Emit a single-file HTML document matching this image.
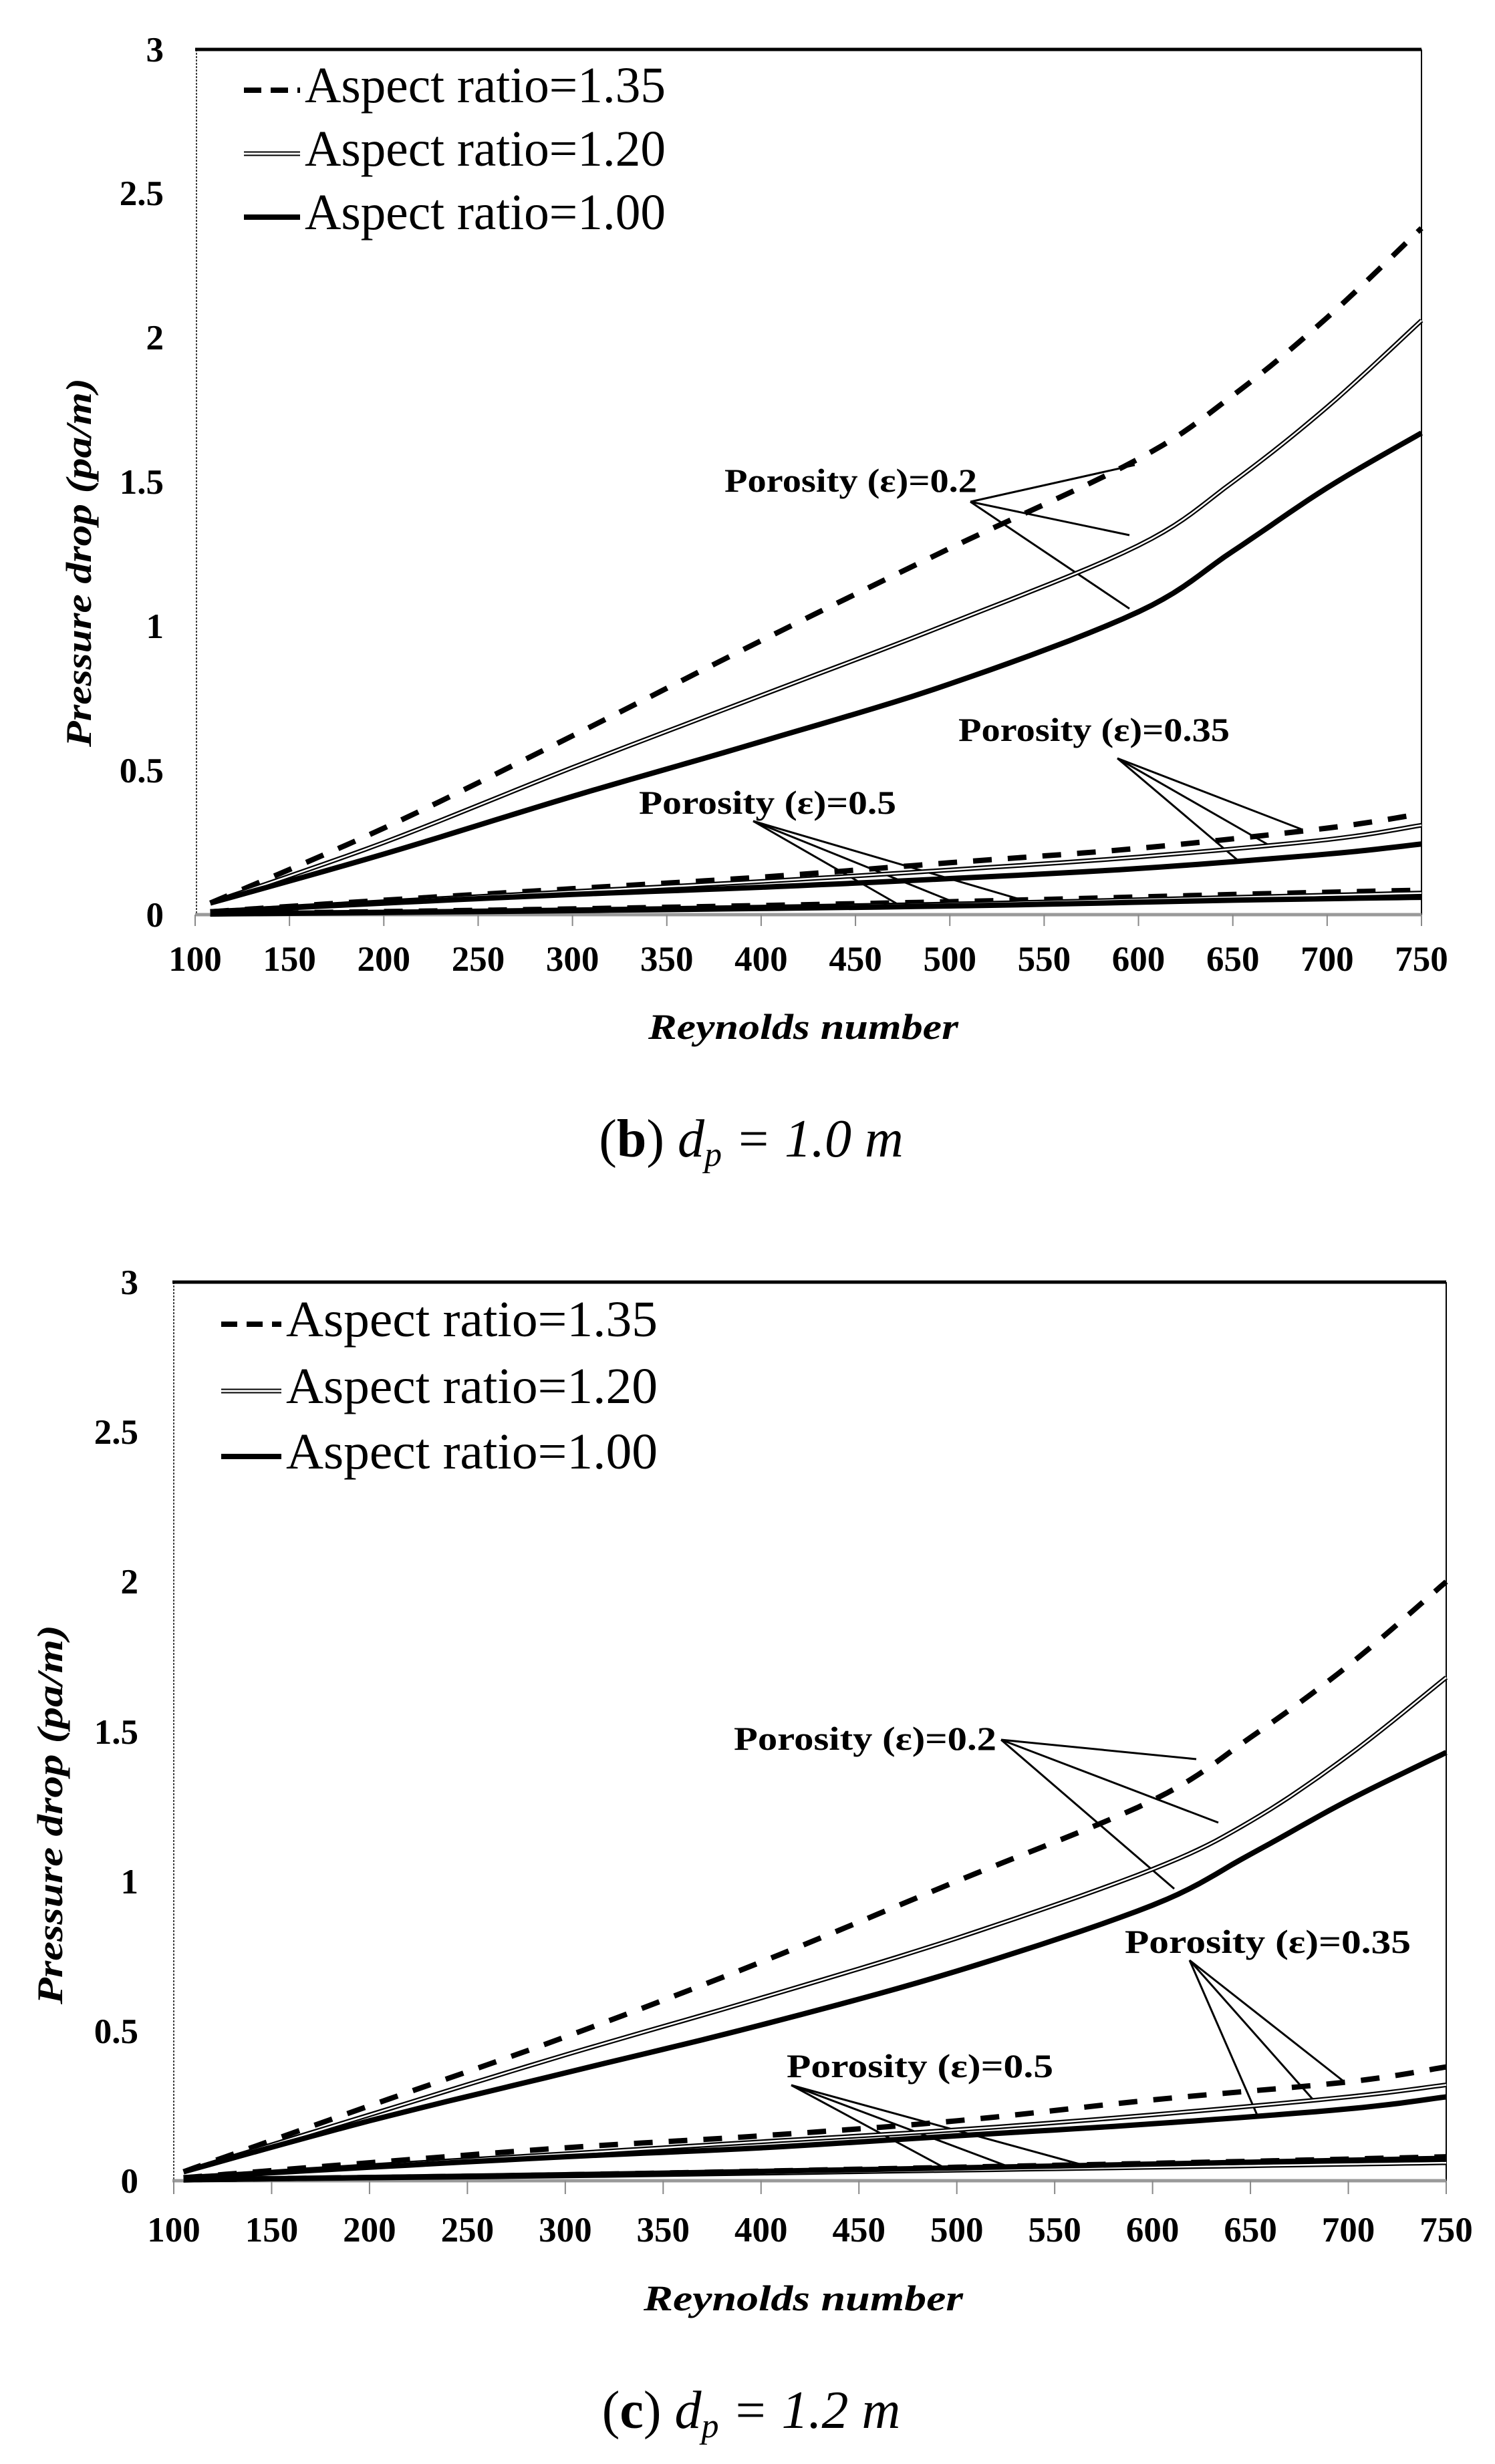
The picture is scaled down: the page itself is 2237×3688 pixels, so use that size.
<!DOCTYPE html>
<html><head><meta charset="utf-8">
<style>
html,body{margin:0;padding:0;background:#fff;}
svg{display:block;}
text{font-family:"Liberation Serif",serif;fill:#000;}
.tk{font-weight:bold;font-size:53px;}
.lg{font-size:76px;}
.pl{font-weight:bold;font-size:50px;}
.ax{font-weight:bold;font-style:italic;font-size:54px;}
.cap{font-size:80px;}
</style></head>
<body>
<svg id="s" width="2237" height="3688" viewBox="0 0 2237 3688" xmlns="http://www.w3.org/2000/svg">
<g id="c1">
<line x1="292" y1="74" x2="2127" y2="74" stroke="#000" stroke-width="5"/>
<line x1="2127" y1="74" x2="2127" y2="1369" stroke="#000" stroke-width="2"/>
<line x1="294" y1="74" x2="294" y2="1369" stroke="#000" stroke-width="1.5" stroke-dasharray="3 2"/>
<line x1="292" y1="1369" x2="2127" y2="1369" stroke="#999" stroke-width="5"/>
<text class="tk" x="245" y="92" text-anchor="end">3</text>
<text class="tk" x="245" y="307" text-anchor="end">2.5</text>
<text class="tk" x="245" y="523" text-anchor="end">2</text>
<text class="tk" x="245" y="739" text-anchor="end">1.5</text>
<text class="tk" x="245" y="955" text-anchor="end">1</text>
<text class="tk" x="245" y="1171" text-anchor="end">0.5</text>
<text class="tk" x="245" y="1387" text-anchor="end">0</text>
<text class="ax" transform="translate(136,842) rotate(-90)" text-anchor="middle" textLength="552" lengthAdjust="spacingAndGlyphs">Pressure drop (pa/m)</text>
<text class="ax" x="1202" y="1555" text-anchor="middle" textLength="464" lengthAdjust="spacingAndGlyphs">Reynolds number</text>
<text class="cap" x="1124" y="1731" text-anchor="middle">(<tspan font-weight="bold">b</tspan>) <tspan font-style="italic">d</tspan><tspan font-style="italic" font-size="52" dy="14">p</tspan><tspan font-style="italic" dy="-14"> = 1.0 m</tspan></text>
<line x1="365" y1="135" x2="449" y2="135" stroke="#000" stroke-width="8" stroke-dasharray="26 14"/>
<line x1="365" y1="230" x2="449" y2="230" stroke="#000" stroke-width="7"/>
<line x1="365" y1="230" x2="449" y2="230" stroke="#fff" stroke-width="3"/>
<line x1="365" y1="325" x2="449" y2="325" stroke="#000" stroke-width="8"/>
<text class="lg" x="456" y="153" textLength="540" lengthAdjust="spacingAndGlyphs">Aspect ratio=1.35</text>
<text class="lg" x="456" y="248" textLength="540" lengthAdjust="spacingAndGlyphs">Aspect ratio=1.20</text>
<text class="lg" x="456" y="343" textLength="540" lengthAdjust="spacingAndGlyphs">Aspect ratio=1.00</text>
<text class="pl" x="1084" y="736" textLength="378" lengthAdjust="spacingAndGlyphs">Porosity (ε)=0.2</text>
<text class="pl" x="1434" y="1109" textLength="406" lengthAdjust="spacingAndGlyphs">Porosity (ε)=0.35</text>
<text class="pl" x="956" y="1218" textLength="385" lengthAdjust="spacingAndGlyphs">Porosity (ε)=0.5</text>
<g stroke="#000" stroke-width="3">
<line x1="1452" y1="751" x2="1698" y2="696"/><line x1="1452" y1="751" x2="1690" y2="801"/><line x1="1452" y1="751" x2="1690" y2="911"/>
<line x1="1672" y1="1135" x2="1947" y2="1241"/><line x1="1672" y1="1135" x2="1897" y2="1264"/><line x1="1672" y1="1135" x2="1855" y2="1290"/>
<line x1="1127" y1="1229" x2="1341" y2="1352"/><line x1="1127" y1="1229" x2="1434" y2="1353"/><line x1="1127" y1="1229" x2="1533" y2="1348"/>
</g>
</g>
<g id="c2">
<line x1="258" y1="1919" x2="2164" y2="1919" stroke="#000" stroke-width="5"/>
<line x1="2164" y1="1919" x2="2164" y2="3264" stroke="#000" stroke-width="2"/>
<line x1="260" y1="1919" x2="260" y2="3264" stroke="#000" stroke-width="1.5" stroke-dasharray="3 2"/>
<line x1="258" y1="3264" x2="2164" y2="3264" stroke="#999" stroke-width="5"/>
<text class="tk" x="207" y="1937" text-anchor="end">3</text>
<text class="tk" x="207" y="2161" text-anchor="end">2.5</text>
<text class="tk" x="207" y="2385" text-anchor="end">2</text>
<text class="tk" x="207" y="2610" text-anchor="end">1.5</text>
<text class="tk" x="207" y="2834" text-anchor="end">1</text>
<text class="tk" x="207" y="3058" text-anchor="end">0.5</text>
<text class="tk" x="207" y="3282" text-anchor="end">0</text>
<text class="ax" transform="translate(93,2716) rotate(-90)" text-anchor="middle" textLength="568" lengthAdjust="spacingAndGlyphs">Pressure drop (pa/m)</text>
<text class="ax" x="1202" y="3458" text-anchor="middle" textLength="478" lengthAdjust="spacingAndGlyphs">Reynolds number</text>
<text class="cap" x="1124" y="3634" text-anchor="middle">(<tspan font-weight="bold">c</tspan>) <tspan font-style="italic">d</tspan><tspan font-style="italic" font-size="52" dy="14">p</tspan><tspan font-style="italic" dy="-14"> = 1.2 m</tspan></text>
<line x1="331" y1="1982" x2="421" y2="1982" stroke="#000" stroke-width="8" stroke-dasharray="24 14"/>
<line x1="331" y1="2082" x2="421" y2="2082" stroke="#000" stroke-width="7"/>
<line x1="331" y1="2082" x2="421" y2="2082" stroke="#fff" stroke-width="3"/>
<line x1="331" y1="2180" x2="421" y2="2180" stroke="#000" stroke-width="8"/>
<text class="lg" x="428" y="2000" textLength="556" lengthAdjust="spacingAndGlyphs">Aspect ratio=1.35</text>
<text class="lg" x="428" y="2100" textLength="556" lengthAdjust="spacingAndGlyphs">Aspect ratio=1.20</text>
<text class="lg" x="428" y="2198" textLength="556" lengthAdjust="spacingAndGlyphs">Aspect ratio=1.00</text>
<text class="pl" x="1098" y="2619" textLength="393" lengthAdjust="spacingAndGlyphs">Porosity (ε)=0.2</text>
<text class="pl" x="1683" y="2923" textLength="428" lengthAdjust="spacingAndGlyphs">Porosity (ε)=0.35</text>
<text class="pl" x="1177" y="3109" textLength="399" lengthAdjust="spacingAndGlyphs">Porosity (ε)=0.5</text>
<g stroke="#000" stroke-width="3">
<line x1="1498" y1="2604" x2="1790" y2="2633"/><line x1="1498" y1="2604" x2="1823" y2="2728"/><line x1="1498" y1="2604" x2="1757" y2="2827"/>
<line x1="1780" y1="2934" x2="2009" y2="3114"/><line x1="1780" y1="2934" x2="1966" y2="3144"/><line x1="1780" y1="2934" x2="1883" y2="3170"/>
<line x1="1184" y1="3121" x2="1412" y2="3244"/><line x1="1184" y1="3121" x2="1512" y2="3244"/><line x1="1184" y1="3121" x2="1626" y2="3242"/>
</g>
</g>
<g id="dyn"></g>
</svg>
<script>
(function(){
var NS="http://www.w3.org/2000/svg",g=document.getElementById("dyn");
function el(n,a){var e=document.createElementNS(NS,n);for(var k in a)e.setAttribute(k,a[k]);g.appendChild(e);return e;}
function chart(x0,x1,y0,unit,tickBot,labY,curves){
  var sx=(x1-x0)/650;
  for(var r=100;r<=750;r+=50){var x=x0+(r-100)*sx;
    el("line",{x1:x,y1:y0,x2:x,y2:tickBot,stroke:"#888","stroke-width":2});
    var t=el("text",{x:x,y:labY,"text-anchor":"middle","class":"tk"});t.textContent=r;}
  curves.forEach(function(c){
    var P=c.p.map(function(q){return [x0+(q[0]-100)*sx,y0-q[1]*unit];});
    var pts=[];
    for(var i=0;i<P.length-1;i++){
      var a=P[Math.max(i-1,0)],b=P[i],d=P[i+1],e=P[Math.min(i+2,P.length-1)];
      for(var s=0;s<10;s++){var t=s/10,t2=t*t,t3=t2*t;
        var f=function(k){return 0.5*((2*b[k])+(-a[k]+d[k])*t+(2*a[k]-5*b[k]+4*d[k]-e[k])*t2+(-a[k]+3*b[k]-3*d[k]+e[k])*t3);};
        pts.push(f(0).toFixed(1)+","+f(1).toFixed(1));}
    }
    var L=P[P.length-1];pts.push(L[0]+","+L[1]);
    var s=pts.join(" ");
    if(c.t=="d") el("polyline",{points:s,fill:"none",stroke:"#000","stroke-width":8,"stroke-dasharray":"28 24"});
    else if(c.t=="w"){el("polyline",{points:s,fill:"none",stroke:"#000","stroke-width":7});
      el("polyline",{points:s,fill:"none",stroke:"#fff","stroke-width":2.5});}
    else el("polyline",{points:s,fill:"none",stroke:"#000","stroke-width":8});
  });
}
chart(292,2127,1369,431.7,1386,1453,[
 {t:"d",p:[[108,0.04],[200,0.3],[300,0.62],[400,0.95],[500,1.27],[600,1.58],[650,1.8],[700,2.07],[750,2.38]]},
 {t:"w",p:[[108,0.04],[200,0.25],[300,0.51],[400,0.76],[500,1.01],[600,1.28],[650,1.5],[700,1.76],[750,2.06]]},
 {t:"s",p:[[108,0.04],[200,0.21],[300,0.41],[400,0.6],[500,0.8],[600,1.05],[650,1.26],[700,1.48],[750,1.67]]},
 {t:"d",p:[[108,0.01],[200,0.05],[300,0.09],[400,0.13],[500,0.18],[600,0.23],[700,0.3],[750,0.35]]},
 {t:"w",p:[[108,0.01],[200,0.045],[300,0.08],[400,0.115],[500,0.155],[600,0.2],[700,0.26],[750,0.31]]},
 {t:"s",p:[[108,0.01],[200,0.04],[300,0.07],[400,0.095],[500,0.125],[600,0.16],[700,0.21],[750,0.245]]},
 {t:"d",p:[[108,0.003],[300,0.02],[500,0.045],[650,0.07],[750,0.085]]},
 {t:"w",p:[[108,0.003],[300,0.017],[500,0.037],[650,0.06],[750,0.075]]},
 {t:"s",p:[[108,0.002],[300,0.014],[500,0.03],[650,0.05],[750,0.06]]}
]);
chart(260,2164,3264,448.3,3284,3355,[
 {t:"d",p:[[105,0.03],[200,0.25],[300,0.48],[400,0.73],[500,1.0],[600,1.27],[650,1.48],[700,1.72],[750,2.0]]},
 {t:"w",p:[[105,0.03],[200,0.22],[300,0.42],[400,0.61],[500,0.81],[600,1.04],[650,1.2],[700,1.42],[750,1.68]]},
 {t:"s",p:[[105,0.03],[200,0.2],[300,0.36],[400,0.52],[500,0.7],[600,0.92],[650,1.09],[700,1.27],[750,1.43]]},
 {t:"d",p:[[105,0.01],[200,0.06],[300,0.11],[400,0.15],[500,0.2],[600,0.27],[700,0.33],[750,0.38]]},
 {t:"w",p:[[105,0.01],[200,0.05],[300,0.09],[400,0.13],[500,0.17],[600,0.22],[700,0.28],[750,0.32]]},
 {t:"s",p:[[105,0.01],[200,0.045],[300,0.08],[400,0.11],[500,0.15],[600,0.19],[700,0.24],[750,0.28]]},
 {t:"d",p:[[105,0.003],[300,0.02],[500,0.045],[650,0.065],[750,0.08]]},
 {t:"w",p:[[105,0.003],[300,0.016],[500,0.035],[650,0.05],[750,0.06]]},
 {t:"s",p:[[105,0.003],[300,0.02],[500,0.043],[650,0.062],[750,0.075]]}
]);
})();
</script>
</body></html>
